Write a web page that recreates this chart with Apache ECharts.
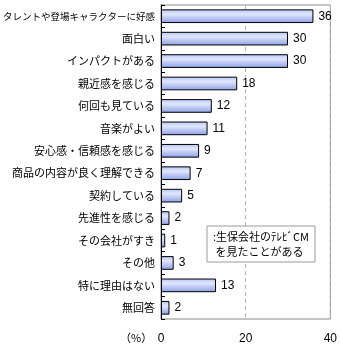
<!DOCTYPE html>
<html>
<head>
<meta charset="utf-8">
<script src="https://cdn.jsdelivr.net/npm/echarts@6/dist/echarts.min.js"></script>
<style>
  html, body { margin: 0; padding: 0; background: #fff; }
  #chart { width: 340px; height: 350px; }
</style>
</head>
<body>
<div id="chart"></div>
<script>
// Reasons for liking a life-insurance TV commercial (%)
const categories = [
  'タレントや登場キャラクターに好感',
  '面白い',
  'インパクトがある',
  '親近感を感じる',
  '何回も見ている',
  '音楽がよい',
  '安心感・信頼感を感じる',
  '商品の内容が良く理解できる',
  '契約している',
  '先進性を感じる',
  'その会社がすき',
  'その他',
  '特に理由はない',
  '無回答'
];
const values = [36, 30, 30, 18, 12, 11, 9, 7, 5, 2, 1, 3, 13, 2];
const seriesName = ':生保会社のﾃﾚﾋﾞCM\n を見たことがある';
const xTicks = { min: 0, max: 40, interval: 20 };
const unitLabel = '（%）';

const FONT = '"Noto Sans CJK JP", "Noto Sans", sans-serif';

const chart = echarts.init(document.getElementById('chart'), null, { renderer: 'canvas' });

chart.setOption({
  animation: false,
  grid: {
    left: 160, right: 8, top: 5, bottom: 31,
    show: true, borderColor: '#8c8c8c', borderWidth: 1, backgroundColor: 'transparent'
  },
  legend: {
    left: 207, top: 226,
    orient: 'vertical',
    icon: 'rect', itemWidth: 0, itemHeight: 0, itemGap: 0,
    padding: [3, 6, 3, 0],
    backgroundColor: '#fff',
    borderColor: '#9a9a9a', borderWidth: 1,
    textStyle: { fontFamily: FONT, fontSize: 11, color: '#000', lineHeight: 15 },
    data: [seriesName]
  },
  xAxis: {
    type: 'value',
    min: xTicks.min, max: xTicks.max, interval: xTicks.interval,
    axisLine: { show: false },
    axisTick: { show: false },
    axisLabel: { fontFamily: '"Liberation Sans", sans-serif', fontSize: 12, color: '#000', margin: 14 },
    splitLine: { show: true, lineStyle: { color: '#b4b4b4', type: [4, 3], width: 1 } }
  },
  yAxis: {
    type: 'category',
    inverse: true,
    data: categories,
    axisLine: { show: true, lineStyle: { color: '#000', width: 1 } },
    axisTick: { show: true, inside: true, length: 4, lineStyle: { color: '#000' } },
    axisLabel: {
      fontFamily: FONT, fontSize: 11, color: '#000', margin: 6,
      formatter: function (v) {
        return v.length > 14 ? '{s|' + v + '}' : v;
      },
      rich: { s: { fontFamily: FONT, fontSize: 9.5, color: '#000' } }
    }
  },
  series: [{
    name: seriesName,
    type: 'bar',
    data: values,
    barWidth: '61%',
    itemStyle: {
      borderColor: '#000', borderWidth: 1,
      color: {
        type: 'linear', x: 0, y: 0, x2: 0, y2: 1,
        colorStops: [
          { offset: 0, color: '#b3c2f2' },
          { offset: 0.35, color: '#e0e7fd' },
          { offset: 1, color: '#8c9fe4' }
        ]
      }
    },
    label: {
      show: true, position: 'right', distance: 5,
      fontFamily: '"Liberation Sans", sans-serif', fontSize: 12, color: '#000'
    }
  }],
  graphic: [{
    type: 'text',
    left: 120, top: 332,
    style: { text: unitLabel, font: '11px ' + FONT, fill: '#000' }
  }]
});
</script>
</body>
</html>
